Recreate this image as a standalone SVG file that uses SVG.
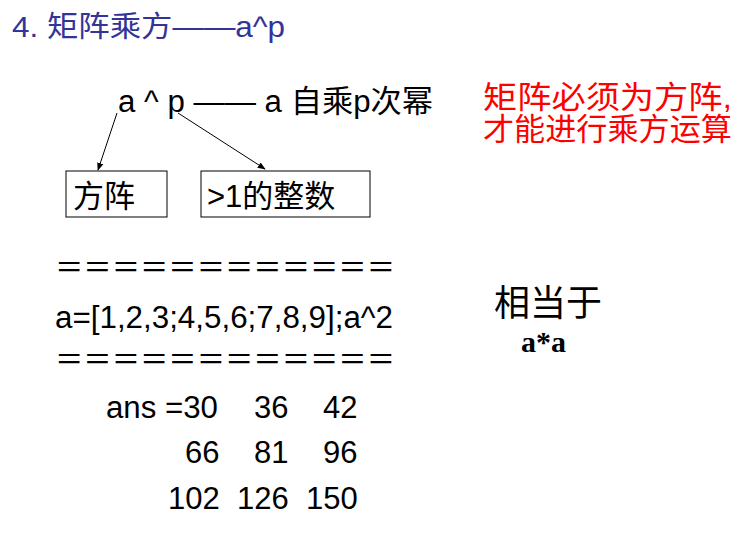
<svg xmlns="http://www.w3.org/2000/svg" width="755" height="545" viewBox="0 0 755 545">
<style>
text{font-family:"Liberation Sans","Noto Sans CJK SC",sans-serif;font-size:31px;fill:#000}
.b{fill:none;stroke:#000;stroke-width:1}
.c{stroke:#000;stroke-width:1;fill:none}
</style>
<defs><marker id="ah" viewBox="0 0 10 10" refX="9" refY="5" markerWidth="8" markerHeight="8" orient="auto"><path d="M0,1 L10,5 L0,9 z" fill="#000"/></marker></defs>
<rect width="755" height="545" fill="#fff"/>
<text x="12" y="37" style="fill:#333399;font-size:29px" textLength="273" lengthAdjust="spacingAndGlyphs">4. 矩阵乘方——a^p</text>
<text x="118" y="112" textLength="315" lengthAdjust="spacingAndGlyphs">a ^ p —— a 自乘p次幂</text>
<text x="483" y="108" style="fill:#ff0000" textLength="249" lengthAdjust="spacingAndGlyphs">矩阵必须为方阵,</text>
<text x="483" y="140" style="fill:#ff0000" textLength="249" lengthAdjust="spacingAndGlyphs">才能进行乘方运算</text>
<g id="n1"><rect class="b" x="66" y="171" width="101" height="46"/><text x="73" y="207">方阵</text></g>
<g id="n2"><rect class="b" x="201" y="171" width="169" height="46"/><text x="207" y="207">&gt;1的整数</text></g>
<g id="connectors">
<line class="c" x1="117" y1="113" x2="98" y2="170" marker-end="url(#ah)"/>
<line class="c" x1="178" y1="113" x2="265" y2="169" marker-end="url(#ah)"/>
</g>
<text x="55" y="278" textLength="340" lengthAdjust="spacingAndGlyphs">＝＝＝＝＝＝＝＝＝＝＝＝</text>
<text x="55" y="328" textLength="338" lengthAdjust="spacingAndGlyphs">a=[1,2,3;4,5,6;7,8,9];a^2</text>
<text x="55" y="370" textLength="340" lengthAdjust="spacingAndGlyphs">＝＝＝＝＝＝＝＝＝＝＝＝</text>
<text x="494" y="316" style="font-size:36px">相当于</text>
<text x="521" y="352" style="font-family:'Liberation Serif',serif;font-weight:bold;font-size:30px">a*a</text>
<text x="106" y="418" textLength="112" lengthAdjust="spacingAndGlyphs">ans =30</text><text x="254" y="418">36</text><text x="323" y="418">42</text>
<text x="185" y="463">66</text><text x="254" y="463">81</text><text x="323" y="463">96</text>
<text x="168" y="509">102</text><text x="237" y="509">126</text><text x="306" y="509">150</text>
</svg>
